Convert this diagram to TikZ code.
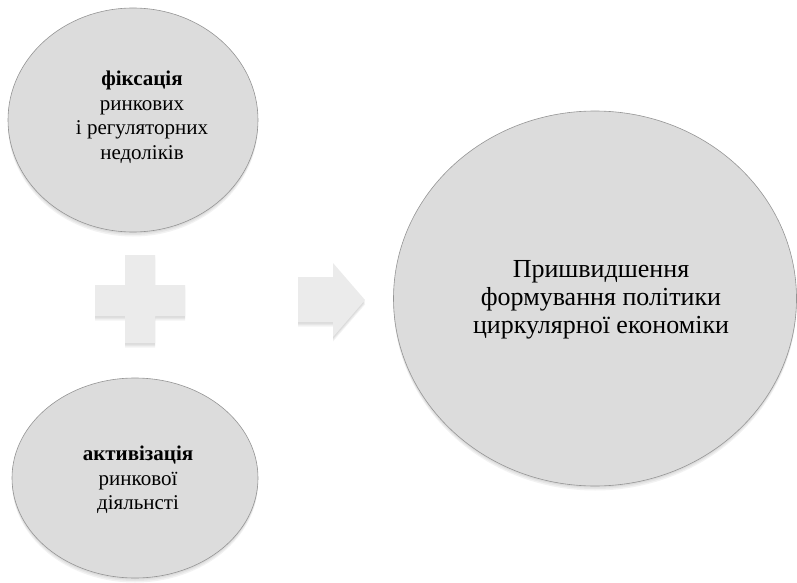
\documentclass[tikz,border=0pt]{standalone}
\usepackage{fontspec}
\setmainfont{Liberation Serif}
\usetikzlibrary{shapes.geometric}
\definecolor{bubfill}{HTML}{DCDCDC}
\definecolor{symfill}{HTML}{EBEBEB}
\definecolor{bubline}{HTML}{959595}
\begin{document}
\begin{tikzpicture}[x=1pt,y=-1pt,
  shade1/.style={fill=black, fill opacity=0.05},
  bubble/.style={ellipse, draw=bubline, line width=0.6pt, fill=bubfill, inner sep=0pt},
  sym/.style={draw=none, fill=symfill},
  smalltext/.style={align=center, inner sep=0pt, font=\fontsize{21}{24.5}\selectfont},
  bigtext/.style={align=center, inner sep=0pt, font=\fontsize{26}{28}\selectfont}]
\useasboundingbox (0,0) rectangle (797,583);
% soft shadows
\foreach \d in {1.5,3,4.5}{
  \fill[shade1] (133,120+\d) ellipse [x radius=125pt, y radius=112pt];
  \fill[shade1] (135,478+\d) ellipse [x radius=123pt, y radius=100pt];
  \fill[shade1] (595,298.5+\d) ellipse [x radius=201.5pt, y radius=187.5pt];
  \fill[shade1] (125,255+\d) -- (155,255+\d) -- (155,285+\d) -- (185,285+\d) -- (185,316+\d) -- (155,316+\d) -- (155,343+\d)
    -- (125,343+\d) -- (125,316+\d) -- (95,316+\d) -- (95,285+\d) -- (125,285+\d) -- cycle;
  \fill[shade1] (298,277+\d) -- (333,277+\d) -- (333,263+\d) -- (365,300+\d) -- (333,337+\d) -- (333,322+\d) -- (298,322+\d) -- cycle;
}
\node[bubble, minimum width=250pt, minimum height=224pt] (e1) at (133,120) {};
\node[bubble, minimum width=246pt, minimum height=200pt] (e2) at (135,478) {};
\node[bubble, minimum width=403pt, minimum height=375pt] (e3) at (595,298.5) {};
\node[smalltext] (t1) at (142,117) {\textbf{фіксація}\\ринкових\\і регуляторних\\недоліків};
\node[smalltext] (t2) at (138,480) {\textbf{активізація}\\ринкової\\діяльнсті};
\node[bigtext] (t3) at (601,300) {Пришвидшення\\формування політики\\циркулярної економіки};
\path[sym] (125,255) -- (155,255) -- (155,285) -- (185,285) -- (185,316) -- (155,316) -- (155,343)
  -- (125,343) -- (125,316) -- (95,316) -- (95,285) -- (125,285) -- cycle;
\path[sym] (298,277) -- (333,277) -- (333,263) -- (365,300) -- (333,337) -- (333,322) -- (298,322) -- cycle;
\end{tikzpicture}
\end{document}
